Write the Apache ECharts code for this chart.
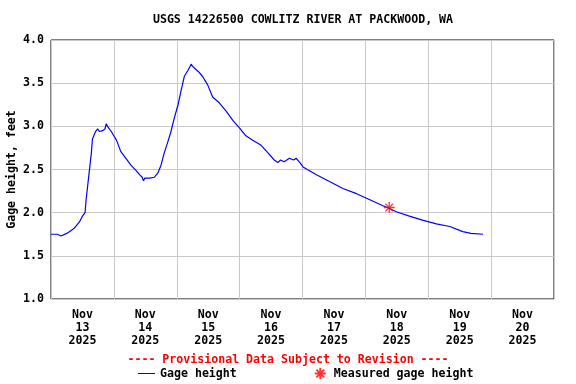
<!DOCTYPE html>
<html><head><meta charset="utf-8">
<script src="https://cdn.jsdelivr.net/npm/echarts@6/dist/echarts.min.js"></script>
<style>html,body{margin:0;padding:0;background:#fff}#c{width:576px;height:384px}</style>
</head><body><div id="c"></div>
<script>
// hours since 2025-11-13 00:00
const hours = [0,2.4,3.8,4.3,6,7,8.9,10.8,12.2,13,13.4,14.4,15.4,15.8,17,17.8,18.5,19.7,20.6,21.1,21.6,22.3,23,23.8,25,26.6,28.6,30.5,32.4,33.8,34.8,35.3,35.8,37.7,38.4,39.4,40.8,42,43.2,44.6,45.8,47,48.5,49.7,50.9,52.3,53.5,54.2,54.7,56.4,57.8,59.8,61.7,64.3,67,69.4,72,74.4,77,80.2,83.5,85.2,86.6,87.6,89,91,92.6,93.6,95,96.2,101.3,106.3,111.4,116.6,121.7,126.7,128.4,131.8,136.8,142.1,147.1,152.2,157.2,160.3,164.9];
const gage = [1.75,1.75,1.73,1.75,1.76,1.78,1.82,1.89,1.97,2.00,2.15,2.42,2.69,2.85,2.94,2.97,2.94,2.95,2.97,3.03,3.00,2.98,2.94,2.90,2.84,2.71,2.63,2.55,2.49,2.44,2.41,2.37,2.40,2.40,2.38,2.41,2.46,2.55,2.69,2.82,2.94,3.09,3.25,3.42,3.58,3.65,3.72,3.69,3.70,3.63,3.58,3.48,3.34,3.27,3.17,3.07,2.98,2.89,2.84,2.78,2.67,2.61,2.58,2.61,2.59,2.63,2.61,2.63,2.58,2.53,2.44,2.36,2.28,2.22,2.15,2.08,2.06,2.01,1.96,1.91,1.87,1.84,1.78,1.76,1.75];
const measuredHours = [129.1];
const measuredValues = [2.06];
const dayLabels = ['Nov\n13\n2025','Nov\n14\n2025','Nov\n15\n2025','Nov\n16\n2025','Nov\n17\n2025','Nov\n18\n2025','Nov\n19\n2025','Nov\n20\n2025'];
const title = 'USGS 14226500 COWLITZ RIVER AT PACKWOOD, WA';

const FONT = 'DejaVu Sans Mono';
const FS = 11.6;
const chart = echarts.init(document.getElementById('c'), null, {renderer:'canvas'});
const star = 'path://M0 5 L10 5 M5 0 L5 10 M1.5 1.5 L8.5 8.5 M8.5 1.5 L1.5 8.5';
chart.setOption({
  animation:false,
  textStyle:{fontFamily:FONT,fontWeight:'bold',fontSize:FS,color:'#000'},
  title:{text:title,left:303,top:14,padding:0,textAlign:'center',textStyle:{fontFamily:FONT,fontWeight:'bold',fontSize:FS,color:'#000'}},
  grid:{left:51,right:22,top:40,bottom:85,show:true,borderColor:'#000',borderWidth:1,backgroundColor:'transparent',outerBoundsMode:'none',containLabel:false},
  xAxis:[
    {type:'value',min:0,max:192,interval:24,axisLabel:{show:false},axisTick:{show:false},
     axisLine:{show:false},splitLine:{show:true,lineStyle:{color:'#c8c8c8',width:1}}},
    {type:'category',data:dayLabels,position:'bottom',boundaryGap:true,axisLine:{show:false},axisTick:{show:false},
     axisLabel:{margin:9,fontFamily:FONT,fontWeight:'bold',fontSize:FS,color:'#000',lineHeight:13,align:'center'},splitLine:{show:false}}
  ],
  yAxis:{type:'value',min:1,max:4,interval:0.5,name:'Gage height, feet',nameLocation:'middle',nameGap:33,nameMoveOverlap:false,
    nameTextStyle:{fontFamily:FONT,fontWeight:'bold',fontSize:FS,color:'#000'},
    axisLine:{show:false},axisTick:{show:false},
    axisLabel:{margin:7,formatter:v=>v.toFixed(1),fontFamily:FONT,fontWeight:'bold',fontSize:FS,color:'#000'},
    splitLine:{show:true,lineStyle:{color:'#c8c8c8',width:1}}},
  legend:{left:138,top:367,padding:0,itemGap:77,itemWidth:17,itemHeight:11,
    textStyle:{fontFamily:FONT,fontWeight:'bold',fontSize:FS,color:'#000'},
    data:[{name:'Gage height',icon:'path://M0 5 L17 5 L17 6 L0 6 Z'},{name:'Measured gage height'}]},
  graphic:[{type:'text',left:'center',top:354,style:{text:'---- Provisional Data Subject to Revision ----',
    x:0,fill:'#ff0000',font:'bold '+FS+'px '+FONT}}],
  series:[
    {name:'Gage height',type:'line',xAxisIndex:0,data:hours.map((h,i)=>[h,gage[i]]),showSymbol:false,symbol:'none',
     lineStyle:{color:'#0000ff',width:1.2},itemStyle:{color:'#0000ff'}},
    {name:'Measured gage height',type:'scatter',xAxisIndex:0,data:measuredHours.map((h,i)=>[h,measuredValues[i]]),
     symbol:star,symbolSize:11,itemStyle:{color:'transparent',borderColor:'#ff0000',borderWidth:1.3},z:5}
  ]
});
</script></body></html>
